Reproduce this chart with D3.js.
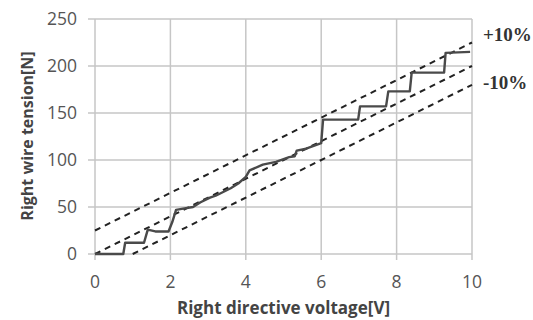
<!DOCTYPE html>
<html>
<head>
<meta charset="utf-8">
<script src="https://cdn.jsdelivr.net/npm/d3@7"></script>
<style>
  body { margin: 0; background: #fff; }
  svg { display: block; }
</style>
</head>
<body>
<div id="chart"></div>
<script>
// measured step response (voltage V, tension N)
const voltage = [0, 0.75, 0.8, 1.3, 1.4, 1.6, 1.95, 2.05, 2.15, 2.3, 2.6, 2.8, 3.05, 3.2, 3.4, 3.6, 3.8, 4.0, 4.1, 4.45, 4.8, 5.15, 5.3, 5.35, 5.6, 6.0, 6.05, 6.98, 7.03, 7.72, 7.78, 8.35, 8.4, 9.26, 9.3, 9.95]
const tension = [0, 0, 12, 12, 26, 24, 24, 34, 47, 48, 50, 55, 60, 62, 66, 70, 75, 82, 89, 95, 98, 103, 104, 110, 112, 118, 143, 143, 157, 157, 173, 173, 193, 193, 214, 215]

// reference lines: nominal and +-10% band
const refNames = ['+10%', 'nominal', '-10%']
const refStart = [[0, 25], [0, 0], [1, 0]]
const refEnd = [[10, 225], [10, 200], [10, 180]]

const xTicks = [0, 2, 4, 6, 8, 10]
const yTicks = [0, 50, 100, 150, 200, 250]

const width = 533, height = 320
const margin = { top: 19, right: 61, bottom: 66, left: 95 }

const svg = d3.select('#chart').append('svg')
  .attr('width', width)
  .attr('height', height)

const x = d3.scaleLinear().domain([0, 10]).range([margin.left, width - margin.right])
const y = d3.scaleLinear().domain([0, 250]).range([height - margin.bottom, margin.top])

// grid
svg.append('g').selectAll('line.h')
  .data(yTicks)
  .enter().append('line')
  .attr('x1', x(0) - 7).attr('x2', x(10))
  .attr('y1', d => y(d)).attr('y2', d => y(d))
  .attr('stroke', '#c6c6c6').attr('stroke-width', 1.5)

svg.append('g').selectAll('line.v')
  .data(xTicks)
  .enter().append('line')
  .attr('x1', d => x(d)).attr('x2', d => x(d))
  .attr('y1', y(250)).attr('y2', y(0) + 6)
  .attr('stroke', '#c6c6c6').attr('stroke-width', 1.5)

// tick labels
svg.append('g').selectAll('text')
  .data(yTicks)
  .enter().append('text')
  .attr('x', x(0) - 18)
  .attr('y', d => y(d) + 6)
  .attr('text-anchor', 'end')
  .attr('font-family', 'Open Sans')
  .attr('font-size', 17.5)
  .attr('fill', '#555')
  .text(d => d)

svg.append('g').selectAll('text')
  .data(xTicks)
  .enter().append('text')
  .attr('x', d => x(d))
  .attr('y', y(0) + 34)
  .attr('text-anchor', 'middle')
  .attr('font-family', 'Open Sans')
  .attr('font-size', 17.5)
  .attr('fill', '#555')
  .text(d => d)

// dashed reference lines
svg.append('g').selectAll('line')
  .data(refNames)
  .enter().append('line')
  .attr('x1', (d, i) => x(refStart[i][0]))
  .attr('y1', (d, i) => y(refStart[i][1]))
  .attr('x2', (d, i) => x(refEnd[i][0]))
  .attr('y2', (d, i) => y(refEnd[i][1]))
  .attr('stroke', '#222')
  .attr('stroke-width', 2)
  .attr('stroke-dasharray', '6,5')

// measured line
const line = d3.line()
  .x(d => x(d[0]))
  .y(d => y(d[1]))

svg.append('path')
  .datum(voltage.map((v, i) => [v, tension[i]]))
  .attr('d', line)
  .attr('fill', 'none')
  .attr('stroke', '#4a4a4a')
  .attr('stroke-width', 2.4)
  .attr('stroke-linejoin', 'round')

// band labels
svg.append('text')
  .attr('x', 483).attr('y', 41)
  .attr('font-family', 'Liberation Serif')
  .attr('font-size', 19).attr('font-weight', 'bold')
  .attr('fill', '#333')
  .text('+10%')

svg.append('text')
  .attr('x', 483).attr('y', 89)
  .attr('font-family', 'Liberation Serif')
  .attr('font-size', 19).attr('font-weight', 'bold')
  .attr('fill', '#333')
  .text('-10%')

// axis titles
svg.append('text')
  .attr('x', (x(0) + x(10)) / 2)
  .attr('y', 314)
  .attr('text-anchor', 'middle')
  .attr('font-family', 'Open Sans')
  .attr('font-size', 17).attr('font-weight', 'bold')
  .attr('fill', '#444')
  .text('Right directive voltage[V]')

svg.append('text')
  .attr('transform', 'translate(33,' + 136 + ') rotate(-90)')
  .attr('text-anchor', 'middle')
  .attr('font-family', 'Open Sans')
  .attr('font-size', 16).attr('font-weight', 'bold')
  .attr('fill', '#444')
  .text('Right wire tension[N]')
</script>
</body>
</html>
